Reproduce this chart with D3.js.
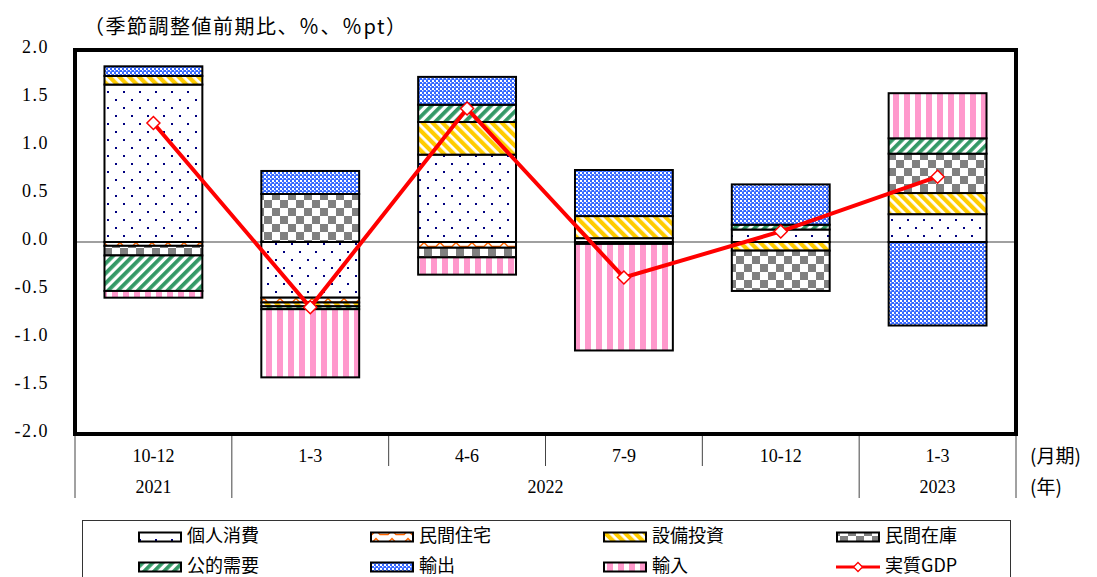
<!DOCTYPE html>
<html>
<head>
<meta charset="utf-8">
<script src="https://cdn.jsdelivr.net/npm/d3@7/dist/d3.min.js"></script>
<style>
  html, body { margin: 0; padding: 0; background: #fff; }
  svg { display: block; }
  .jp { font-family: "Noto Sans CJK JP", "Noto Sans", sans-serif; }
  .num { font-family: "Liberation Serif", "DejaVu Serif", serif; }
</style>
</head>
<body>
<svg id="chart" width="1097" height="577"></svg>
<script>
// Quarterly categories (month ranges) and the year row below them
const quarters = ["10-12", "1-3", "4-6", "7-9", "10-12", "1-3"];
const years = ["2021", "2022", "2023"];
const yearFirstQuarter = [0, 1, 5];
const yearLastQuarter = [0, 4, 5];

// Contributions to real GDP growth (q/q, seasonally adjusted, %pt)
const seriesNames = ["個人消費", "民間住宅", "設備投資", "民間在庫", "公的需要", "輸出", "輸入"];
const privateConsumption = [1.64, -0.58, 0.91, 0.04, 0.13, 0.29];
const housing = [-0.04, -0.05, -0.06, -0.01, 0.00, 0.00];
const businessInvestment = [0.09, -0.04, 0.34, 0.23, -0.09, 0.22];
const inventories = [-0.10, 0.50, -0.10, -0.01, -0.42, 0.41];
const publicDemand = [-0.37, -0.03, 0.18, 0.00, 0.05, 0.16];
const exportsC = [0.10, 0.24, 0.29, 0.48, 0.42, -0.87];
const importsC = [-0.07, -0.71, -0.18, -1.11, 0.00, 0.47];
// Real GDP growth (%)
const realGDP = [1.24, -0.68, 1.39, -0.37, 0.11, 0.68];

const yTicks = [2.0, 1.5, 1.0, 0.5, 0.0, -0.5, -1.0, -1.5, -2.0];
const gdpLabel = "実質GDP";
const unitTitle = "（季節調整値前期比、％、％pt）";

// ---- layout ----
const svg = d3.select("#chart");
const plot = { left: 75, right: 1016, top: 50, bottom: 434 };

const x = d3.scaleBand()
  .domain(d3.range(quarters.length))
  .range([plot.left, plot.right])
  .paddingInner(0.376)
  .paddingOuter(0.188);
const step = x.step();
const bandStart = i => plot.left + i * step;

const y = d3.scaleLinear().domain([-2, 2]).range([plot.bottom, plot.top]);

// ---- fill patterns ----
const defs = svg.append("defs");
function pattern(id, w, h, transform) {
  const p = defs.append("pattern").attr("id", id)
    .attr("patternUnits", "userSpaceOnUse").attr("width", w).attr("height", h);
  if (transform) p.attr("patternTransform", transform);
  p.append("rect").attr("width", w).attr("height", h).attr("fill", "#fff");
  return p;
}
// dots
let p = pattern("pDots", 16, 16);
p.append("rect").attr("x", 3).attr("y", 3).attr("width", 2).attr("height", 2).attr("fill", "#000080");
p.append("rect").attr("x", 11).attr("y", 11).attr("width", 2).attr("height", 2).attr("fill", "#000080");
// zigzag
p = pattern("pZig", 16, 8);
p.append("path").attr("d", "M0,6.5 L4,6.5 L8,2.5 L12,6.5 L16,6.5")
  .attr("fill", "none").attr("stroke", "#FF6600").attr("stroke-width", 1.4);
// yellow stripes "\"
p = pattern("pYellow", 7, 7, "rotate(-45)");
p.append("rect").attr("width", 4.2).attr("height", 7).attr("fill", "#FFCC00");
// gray checker
p = pattern("pCheck", 16, 16);
p.append("rect").attr("width", 8).attr("height", 8).attr("fill", "#808080");
p.append("rect").attr("x", 8).attr("y", 8).attr("width", 8).attr("height", 8).attr("fill", "#808080");
// green stripes "/"
p = pattern("pGreen", 7, 7, "rotate(45)");
p.append("rect").attr("width", 3.8).attr("height", 7).attr("fill", "#339966");
// blue fine check
p = pattern("pBlue", 4, 4);
p.append("rect").attr("width", 4).attr("height", 4).attr("fill", "#3366FF");
p.append("rect").attr("x", 0).attr("y", 0).attr("width", 2).attr("height", 2).attr("fill", "#fff");
p.append("rect").attr("x", 2).attr("y", 2).attr("width", 1.4).attr("height", 1.4).attr("fill", "#fff");
// pink vertical stripes
p = pattern("pPink", 11, 11);
p.append("rect").attr("x", 2).attr("width", 6).attr("height", 11).attr("fill", "#FF99CC");

const fills = ["url(#pDots)", "url(#pZig)", "url(#pYellow)", "url(#pCheck)", "url(#pGreen)", "url(#pBlue)", "url(#pPink)"];

// ---- stacked data ----
const seriesValues = [privateConsumption, housing, businessInvestment, inventories, publicDemand, exportsC, importsC];
const rows = quarters.map((q, i) => {
  const r = { i };
  seriesNames.forEach((k, j) => { r[k] = seriesValues[j][i]; });
  return r;
});
const stacked = d3.stack().keys(seriesNames).offset(d3.stackOffsetDiverging)(rows);

// ---- unit title ----
svg.append("text").attr("class", "jp")
  .attr("x", 84).attr("y", 34)
  .attr("font-size", 20).attr("letter-spacing", 1.5).attr("fill", "#000")
  .text(unitTitle);

// ---- y labels ----
svg.append("g").selectAll("text").data(yTicks).join("text")
  .attr("class", "num")
  .attr("x", 49).attr("y", d => y(d) - 1)
  .attr("text-anchor", "end").attr("dominant-baseline", "middle")
  .attr("font-size", 18).attr("letter-spacing", 1.5)
  .text(d => d3.format(".1f")(d).replace("−", "-"));

// ---- zero line ----
svg.append("line")
  .attr("x1", plot.left).attr("x2", plot.right)
  .attr("y1", y(0)).attr("y2", y(0))
  .attr("stroke", "#808080").attr("stroke-width", 1.3);

// ---- bars ----
const gBars = svg.append("g");
stacked.forEach((s, j) => {
  gBars.append("g").selectAll("rect")
    .data(s.filter(d => Math.abs(d[1] - d[0]) > 1e-9))
    .join("rect")
    .attr("x", d => x(d.data.i))
    .attr("width", x.bandwidth())
    .attr("y", d => y(Math.max(d[0], d[1])))
    .attr("height", d => Math.abs(y(d[0]) - y(d[1])))
    .attr("fill", fills[j])
    .attr("stroke", "#000").attr("stroke-width", 2);
});

// ---- GDP line ----
const line = d3.line().x((d, i) => x(i) + x.bandwidth() / 2).y(d => y(d));
svg.append("path").datum(realGDP)
  .attr("d", line).attr("fill", "none")
  .attr("stroke", "#FF0000").attr("stroke-width", 4).attr("stroke-linejoin", "miter");
const diamond = s => `M0,${-s} L${s},0 L0,${s} L${-s},0 Z`;
svg.append("g").selectAll("path").data(realGDP).join("path")
  .attr("transform", (d, i) => `translate(${x(i) + x.bandwidth() / 2},${y(d)})`)
  .attr("d", diamond(6.5))
  .attr("fill", "#fff").attr("stroke", "#FF0000").attr("stroke-width", 1.5);

// ---- frame ----
svg.append("rect")
  .attr("x", plot.left).attr("y", plot.top)
  .attr("width", plot.right - plot.left).attr("height", plot.bottom - plot.top)
  .attr("fill", "none").attr("stroke", "#000").attr("stroke-width", 4);

// ---- category table ----
const gAxis = svg.append("g");
const rowLine1 = 466, rowLine2 = 498;
d3.range(quarters.length + 1).forEach(k => {
  const yearEdge = k === 0 || k === quarters.length || yearFirstQuarter.includes(k);
  gAxis.append("line")
    .attr("x1", bandStart(k)).attr("x2", bandStart(k))
    .attr("y1", plot.bottom + 2).attr("y2", yearEdge ? rowLine2 : rowLine1)
    .attr("stroke", "#444").attr("stroke-width", 1);
});
gAxis.selectAll("text.q").data(quarters).join("text")
  .attr("class", "num q")
  .attr("x", (d, i) => x(i) + x.bandwidth() / 2).attr("y", 458)
  .attr("text-anchor", "middle").attr("dominant-baseline", "middle")
  .attr("font-size", 18)
  .text(d => d);
gAxis.selectAll("text.yr").data(years).join("text")
  .attr("class", "num yr")
  .attr("x", (d, k) => (bandStart(yearFirstQuarter[k]) + bandStart(yearLastQuarter[k] + 1)) / 2)
  .attr("y", 489)
  .attr("text-anchor", "middle").attr("dominant-baseline", "middle")
  .attr("font-size", 18)
  .text(d => d);
gAxis.append("text").attr("class", "jp")
  .attr("x", 1030).attr("y", 458).attr("dominant-baseline", "middle")
  .attr("font-size", 19).text("(月期)");
gAxis.append("text").attr("class", "jp")
  .attr("x", 1030).attr("y", 489).attr("dominant-baseline", "middle")
  .attr("font-size", 19).text("(年)");

// ---- legend ----
const legend = svg.append("g");
legend.append("rect")
  .attr("x", 82.5).attr("y", 520.5).attr("width", 928).attr("height", 70)
  .attr("fill", "#fff").attr("stroke", "#333").attr("stroke-width", 1);
const legendItems = seriesNames.concat([gdpLabel]);
const colSwatch = [138, 370, 603, 836];
const rowY = [537, 567];
legendItems.forEach((name, k) => {
  const cx = colSwatch[k % 4], cy = rowY[Math.floor(k / 4)];
  if (k < seriesNames.length) {
    legend.append("rect")
      .attr("x", cx + 1).attr("y", cy - 4.5).attr("width", 42).attr("height", 9)
      .attr("fill", fills[k]).attr("stroke", "#000").attr("stroke-width", 2);
  } else {
    legend.append("line")
      .attr("x1", cx).attr("x2", cx + 44).attr("y1", cy).attr("y2", cy)
      .attr("stroke", "#FF0000").attr("stroke-width", 3);
    legend.append("path")
      .attr("transform", `translate(${cx + 22},${cy})`)
      .attr("d", diamond(4.5))
      .attr("fill", "#fff").attr("stroke", "#FF0000").attr("stroke-width", 1.3);
  }
  legend.append("text").attr("class", "jp")
    .attr("x", cx + 49).attr("y", cy).attr("dominant-baseline", "middle")
    .attr("font-size", 18).text(name);
});
</script>
</body>
</html>
